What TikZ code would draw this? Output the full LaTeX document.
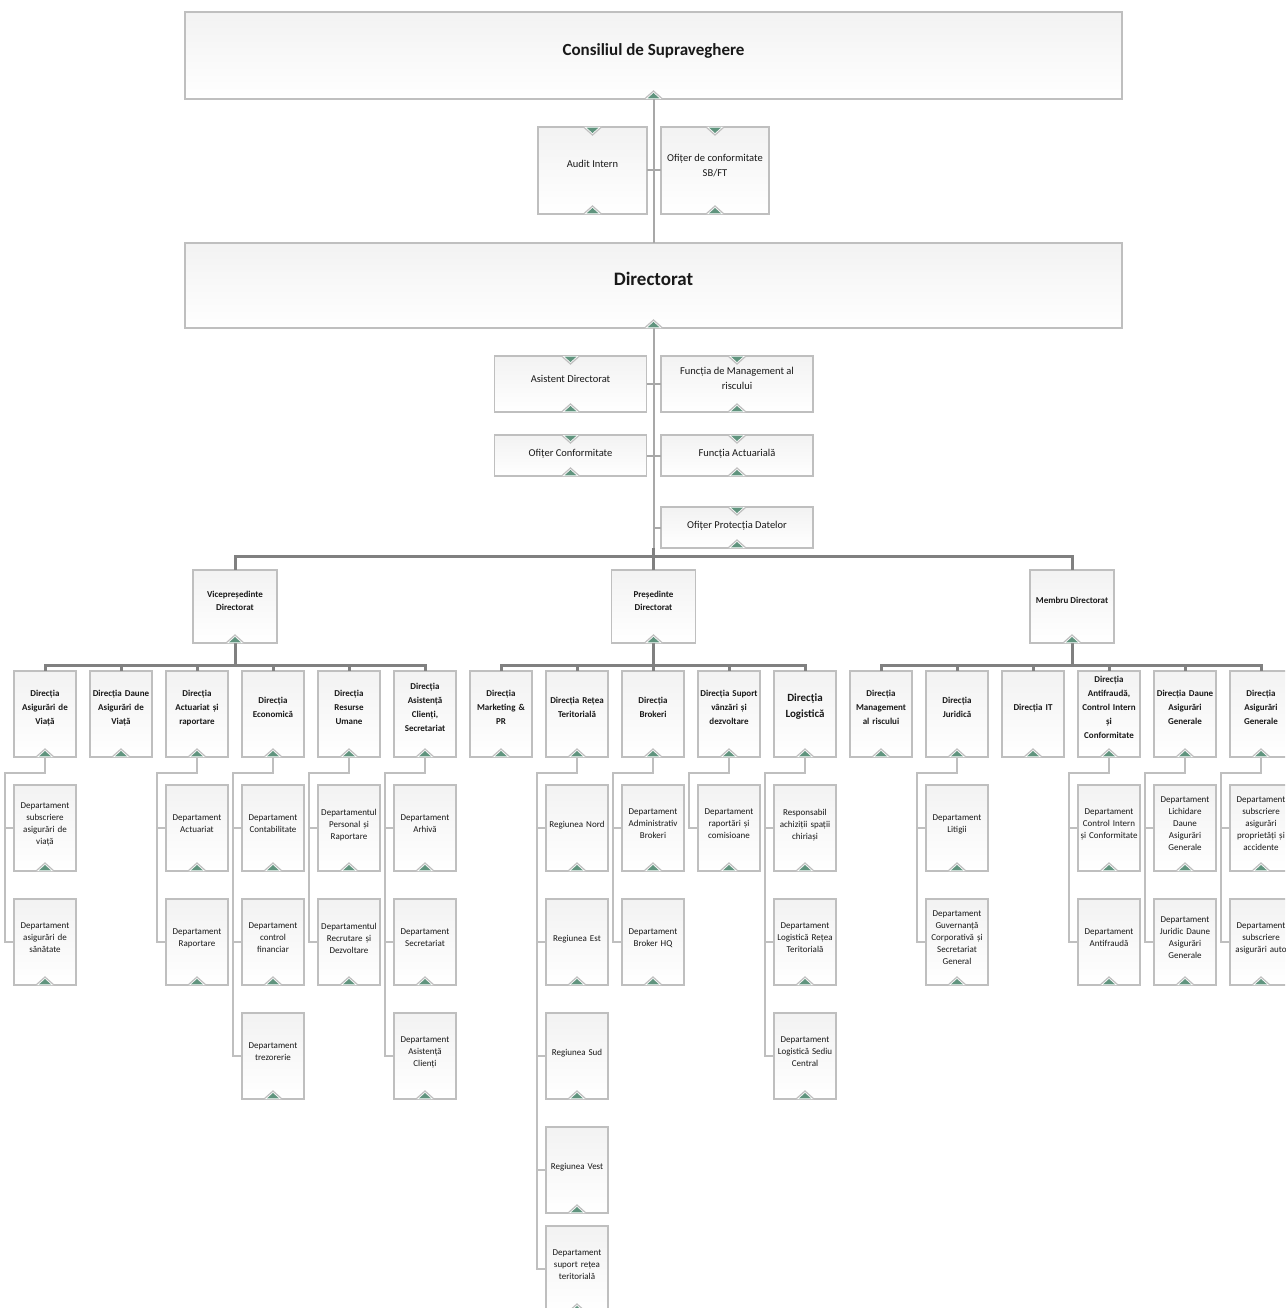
\documentclass[tikz,border=0pt]{standalone}
\usepackage{fontspec}
\setmainfont{Carlito}
\usetikzlibrary{positioning}
\definecolor{boxgray}{RGB}{191,191,191}
\definecolor{linkgray}{RGB}{168,168,168}
\definecolor{busgray}{RGB}{128,128,128}
\definecolor{markgreen}{RGB}{96,148,126}
\tikzstyle{box} = [draw=boxgray, line width=1.3pt, top color=black!5, bottom color=white, outer sep=0pt, inner sep=0pt, align=center, text=black!90]
\tikzstyle{head} = [box, minimum width=937pt]
\tikzstyle{staff} = [box, minimum width=152pt, text depth=11pt, font=\fontsize{10.5}{15}\selectfont]
\tikzstyle{chief} = [box, minimum width=84pt, minimum height=73pt, text depth=12pt, font=\fontsize{9}{13}\selectfont\bfseries]
\tikzstyle{dir} = [box, text width=62pt, minimum height=86pt, execute at end node={\\\mbox{}}, font=\fontsize{9}{14}\selectfont\bfseries]
\tikzstyle{dept} = [box, text width=62pt, minimum height=86pt, execute at end node={\\[-4pt]\mbox{}}, font=\fontsize{9}{12}\selectfont]
\tikzstyle{link} = [draw=linkgray, line width=2pt]
\tikzstyle{bus} = [draw=busgray, line width=3pt]
\tikzstyle{sub} = [draw=boxgray, line width=2.5pt]
% small triangles on the box edges
\newcommand{\upmark}[1]{%
  \fill[white] ([xshift=-9pt]#1.south) -- ([yshift=8pt]#1.south) -- ([xshift=9pt]#1.south) -- cycle;
  \draw[boxgray, line width=1.2pt] ([xshift=-9pt]#1.south) -- ([yshift=8pt]#1.south) -- ([xshift=9pt]#1.south);
  \fill[markgreen] ([xshift=-6pt,yshift=0.6pt]#1.south) -- ([yshift=6pt]#1.south) -- ([xshift=6pt,yshift=0.6pt]#1.south) -- cycle;}
\newcommand{\dnmark}[1]{%
  \fill[white] ([xshift=-9pt]#1.north) -- ([yshift=-8pt]#1.north) -- ([xshift=9pt]#1.north) -- cycle;
  \draw[boxgray, line width=1.2pt] ([xshift=-9pt]#1.north) -- ([yshift=-8pt]#1.north) -- ([xshift=9pt]#1.north);
  \fill[markgreen] ([xshift=-6pt,yshift=-0.6pt]#1.north) -- ([yshift=-6pt]#1.north) -- ([xshift=6pt,yshift=-0.6pt]#1.north) -- cycle;}

\begin{document}
\begin{tikzpicture}[x=1pt,y=-1pt]
\useasboundingbox (0,0) rectangle (1285,1308);
\clip (0,0) rectangle (1285,1308);

% top
\node[head, minimum height=87pt, text depth=12pt, font=\fontsize{17}{20}\selectfont\bfseries] (cons) at (653.5,55.5) {Consiliul de Supraveghere};
\node[staff, minimum width=109pt, minimum height=87pt, text depth=13pt] (audit) at (592.5,170.5) {Audit Intern};
\node[staff, minimum width=108pt, minimum height=87pt] (ofsb) at (715,170.5) {Ofițer de conformitate\\SB/FT};
\node[head, minimum height=85pt, text depth=14pt, font=\fontsize{19}{22}\selectfont\bfseries] (dirc) at (653.5,285.5) {Directorat};
\node[staff, minimum height=56pt] (asistdir) at (570.5,384) {Asistent Directorat};
\node[staff, minimum height=56pt] (mgmt) at (737,384) {Funcția de Management al\\riscului};
\node[staff, minimum height=41pt, text depth=6pt] (ofconf) at (570.5,455.5) {Ofițer Conformitate};
\node[staff, minimum height=41pt, text depth=6pt] (fact) at (737,455.5) {Funcția Actuarială};
\node[staff, minimum height=41pt, text depth=6pt] (protd) at (737,527.5) {Ofițer Protecția Datelor};

\node[chief] (vp) at (235,606.5) {Vicepreședinte\\Directorat};
\node[chief] (pres) at (653.5,606.5) {Președinte\\Directorat};
\node[chief] (memb) at (1072,606.5) {Membru Directorat};

% directii
\node[dir] (dviata) at (45,714) {Direcția\\Asigurări de\\Viață};
\node[dir, right=14pt of dviata] (ddaunev) {Direcția Daune\\Asigurări de\\Viață};
\node[dir, right=14pt of ddaunev] (dact) {Direcția\\Actuariat și\\raportare};
\node[dir, right=14pt of dact] (deco) {Direcția\\Economică};
\node[dir, right=14pt of deco] (dhr) {Direcția\\Resurse\\Umane};
\node[dir, right=14pt of dhr] (dasist) {Direcția\\Asistență\\Clienți,\\Secretariat};
\node[dir, right=14pt of dasist] (dmkt) {Direcția\\Marketing \&\\PR};
\node[dir, right=14pt of dmkt] (dretea) {Direcția Rețea\\Teritorială};
\node[dir, right=14pt of dretea] (dbrok) {Direcția\\Brokeri};
\node[dir, right=14pt of dbrok] (dsuport) {Direcția Suport\\vânzări și\\dezvoltare};
\node[dir, right=14pt of dsuport, font=\fontsize{11}{16}\selectfont\bfseries] (dlog) {Direcția\\Logistică};
\node[dir, right=14pt of dlog] (drisc) {Direcția\\Management\\al riscului};
\node[dir, right=14pt of drisc] (djur) {Direcția\\Juridică};
\node[dir, right=14pt of djur] (dit) {Direcția IT};
\node[dir, right=14pt of dit] (dantif) {Direcția\\Antifraudă,\\Control Intern\\și\\Conformitate};
\node[dir, right=14pt of dantif] (ddauneg) {Direcția Daune\\Asigurări\\Generale};
\node[dir, right=14pt of ddauneg] (dasig) {Direcția\\Asigurări\\Generale};

% departamente
\node[dept, below=28pt of dviata] (viata1) {Departament\\subscriere\\asigurări de\\viață};
\node[dept, below=28pt of viata1] (viata2) {Departament\\asigurări de\\sănătate};
\node[dept, below=28pt of dact] (act1) {Departament\\Actuariat};
\node[dept, below=28pt of act1] (act2) {Departament\\Raportare};
\node[dept, below=28pt of deco] (eco1) {Departament\\Contabilitate};
\node[dept, below=28pt of eco1] (eco2) {Departament\\control\\financiar};
\node[dept, below=28pt of eco2] (eco3) {Departament\\trezorerie};
\node[dept, below=28pt of dhr] (hr1) {Departamentul\\Personal și\\Raportare};
\node[dept, below=28pt of hr1] (hr2) {Departamentul\\Recrutare și\\Dezvoltare};
\node[dept, below=28pt of dasist] (cli1) {Departament\\Arhivă};
\node[dept, below=28pt of cli1] (cli2) {Departament\\Secretariat};
\node[dept, below=28pt of cli2] (cli3) {Departament\\Asistență\\Clienți};
\node[dept, below=28pt of dretea] (retea1) {Regiunea Nord};
\node[dept, below=28pt of retea1] (retea2) {Regiunea Est};
\node[dept, below=28pt of retea2] (retea3) {Regiunea Sud};
\node[dept, below=28pt of retea3] (retea4) {Regiunea Vest};
\node[dept, below=13pt of retea4] (retea5) {Departament\\suport rețea\\teritorială};
\node[dept, below=28pt of dbrok] (brok1) {Departament\\Administrativ\\Brokeri};
\node[dept, below=28pt of brok1] (brok2) {Departament\\Broker HQ};
\node[dept, below=28pt of dsuport] (suport1) {Departament\\raportări și\\comisioane};
\node[dept, below=28pt of dlog] (log1) {Responsabil\\achiziții spații\\chiriași};
\node[dept, below=28pt of log1] (log2) {Departament\\Logistică Rețea\\Teritorială};
\node[dept, below=28pt of log2] (log3) {Departament\\Logistică Sediu\\Central};
\node[dept, below=28pt of djur] (jur1) {Departament\\Litigii};
\node[dept, below=28pt of jur1] (jur2) {Departament\\Guvernanță\\Corporativă și\\Secretariat\\General};
\node[dept, below=28pt of dantif] (antif1) {Departament\\Control Intern\\și Conformitate};
\node[dept, below=28pt of antif1] (antif2) {Departament\\Antifraudă};
\node[dept, below=28pt of ddauneg] (dauneg1) {Departament\\Lichidare\\Daune\\Asigurări\\Generale};
\node[dept, below=28pt of dauneg1] (dauneg2) {Departament\\Juridic Daune\\Asigurări\\Generale};
\node[dept, below=28pt of dasig] (asig1) {Departament\\subscriere\\asigurări\\proprietăți și\\accidente};
\node[dept, below=28pt of asig1] (asig2) {Departament\\subscriere\\asigurări auto};

% legaturi
\draw[link] (cons.south) -- (dirc.north);
\draw[link] (audit.east) -- (audit.east -| cons.south);
\draw[link] (ofsb.west) -- (ofsb.west -| cons.south);
\draw[link] (dirc.south) -- (pres.north);
\foreach \n in {asistdir,ofconf}
  \draw[link] (\n.east) -- (\n.east -| dirc.south);
\foreach \n in {mgmt,fact,protd}
  \draw[link] (\n.west) -- (\n.west -| dirc.south);
\draw[bus] (vp.north) -- ++(0,-14) -| (memb.north);
\draw[bus] (pres.north) -- ++(0,-22);
\draw[bus] (vp.south) -- ++(0,22);
\draw[bus] (pres.south) -- ++(0,22);
\draw[bus] (memb.south) -- ++(0,22);
\draw[bus] (dviata.north) -- ++(0,-6) -| (dasist.north);
\draw[bus] (dmkt.north) -- ++(0,-6) -| (dlog.north);
\draw[bus] (drisc.north) -- ++(0,-6) -| (dasig.north);
\foreach \n in {ddaunev,dact,deco,dhr,dretea,dbrok,dsuport,djur,dit,dantif,ddauneg}
  \draw[bus] (\n.north) -- ++(0,-6);

\draw[sub] (dviata.south) -- ++(0,16) -| ([xshift=-9pt]viata2.west) -- (viata2.west);
\draw[sub] (dact.south) -- ++(0,16) -| ([xshift=-9pt]act2.west) -- (act2.west);
\draw[sub] (deco.south) -- ++(0,16) -| ([xshift=-9pt]eco3.west) -- (eco3.west);
\draw[sub] (dhr.south) -- ++(0,16) -| ([xshift=-9pt]hr2.west) -- (hr2.west);
\draw[sub] (dasist.south) -- ++(0,16) -| ([xshift=-9pt]cli3.west) -- (cli3.west);
\draw[sub] (dretea.south) -- ++(0,16) -| ([xshift=-9pt]retea5.west) -- (retea5.west);
\draw[sub] (dbrok.south) -- ++(0,16) -| ([xshift=-9pt]brok2.west) -- (brok2.west);
\draw[sub] (dsuport.south) -- ++(0,16) -| ([xshift=-9pt]suport1.west) -- (suport1.west);
\draw[sub] (dlog.south) -- ++(0,16) -| ([xshift=-9pt]log3.west) -- (log3.west);
\draw[sub] (djur.south) -- ++(0,16) -| ([xshift=-9pt]jur2.west) -- (jur2.west);
\draw[sub] (dantif.south) -- ++(0,16) -| ([xshift=-9pt]antif2.west) -- (antif2.west);
\draw[sub] (ddauneg.south) -- ++(0,16) -| ([xshift=-9pt]dauneg2.west) -- (dauneg2.west);
\draw[sub] (dasig.south) -- ++(0,16) -| ([xshift=-9pt]asig2.west) -- (asig2.west);
\foreach \n in {viata1,act1,eco1,eco2,hr1,cli1,cli2,retea1,retea2,retea3,retea4,brok1,log1,log2,jur1,antif1,dauneg1,asig1}
  \draw[sub] ([xshift=-9pt]\n.west) -- (\n.west);

% marcaje
\foreach \n in {cons,dirc,audit,ofsb,asistdir,mgmt,ofconf,fact,protd,vp,pres,memb,
  dviata,ddaunev,dact,deco,dhr,dasist,dmkt,dretea,dbrok,dsuport,dlog,drisc,djur,dit,dantif,ddauneg,dasig,
  viata1,viata2,act1,act2,eco1,eco2,eco3,hr1,hr2,cli1,cli2,cli3,retea1,retea2,retea3,retea4,retea5,
  brok1,brok2,suport1,log1,log2,log3,jur1,jur2,antif1,antif2,dauneg1,dauneg2,asig1,asig2}
  \upmark{\n};
\foreach \n in {audit,ofsb,asistdir,mgmt,ofconf,fact,protd}
  \dnmark{\n};
\end{tikzpicture}
\end{document}
